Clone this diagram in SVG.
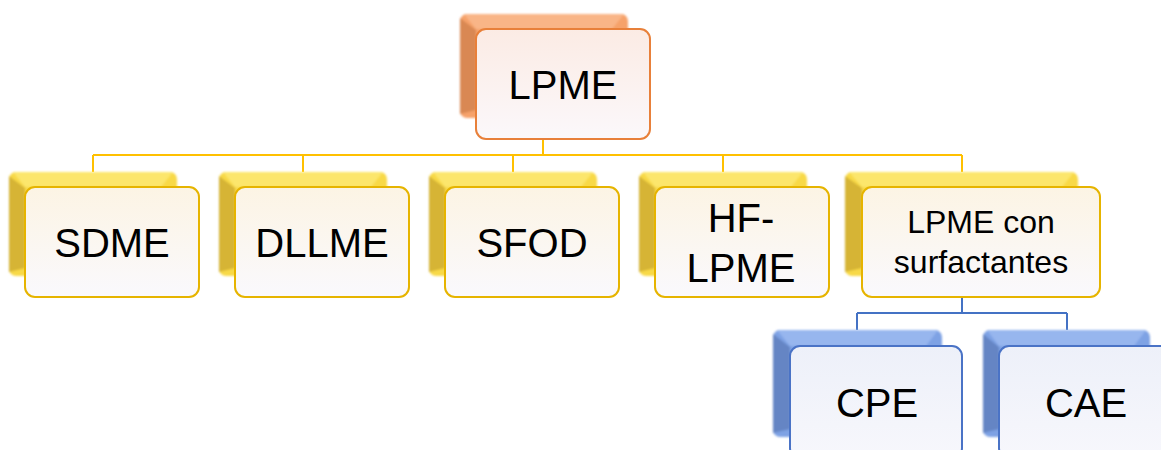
<svg xmlns="http://www.w3.org/2000/svg" width="1161" height="450" viewBox="0 0 1161 450">
<defs>
<linearGradient id="fo" x1="0" y1="0" x2="0" y2="1"><stop offset="0" stop-color="#FBEBE4"/><stop offset="1" stop-color="#FBF8FB"/></linearGradient>
<linearGradient id="fy" x1="0" y1="0" x2="0" y2="1"><stop offset="0" stop-color="#FCF4E4"/><stop offset="1" stop-color="#FAF9FD"/></linearGradient>
<linearGradient id="fb" x1="0" y1="0" x2="0" y2="1"><stop offset="0" stop-color="#EDF0F9"/><stop offset="1" stop-color="#F7F7FC"/></linearGradient>
<filter id="soft" x="-5%" y="-5%" width="110%" height="110%"><feGaussianBlur stdDeviation="1"/></filter>
</defs>
<style>
.t{font-family:"Liberation Sans",Arial,sans-serif;font-size:40px;fill:#000;text-anchor:middle}
.s{font-size:32px}
.bo{fill:#F6A26A}.lo{fill:#D98852}.to{fill:#F9B587}
.by{fill:#F8D946}.ly{fill:#D6B436}.ty{fill:#FCE66C}
.bb{fill:#7EA2E4}.lb{fill:#6585C4}.tb{fill:#97B6EE}
.fo{fill:url(#fo);stroke:#E8803A;stroke-width:2}
.fy{fill:url(#fy);stroke:#E6B400;stroke-width:2}
.fb{fill:url(#fb);stroke:#4A73C6;stroke-width:2}
.cy{fill:none;stroke:#FFC000;stroke-width:2}
.cb{fill:none;stroke:#4472C4;stroke-width:2}
</style>
<g id="connectors">
<path class="cy" d="M543 139V155M93 155H962M93 155V172M303 155V172M513 155V172M723 155V172M962 155V172"/>
<path class="cb" d="M962 298V313M857 313H1067M857 313V330M1067 313V330"/>
</g>
<g id="n-lpme">
<g filter="url(#soft)"><rect class="bo" x="460" y="14" width="168" height="104" rx="7"/><polygon class="lo" points="460,18 476,30 476,110 460,114"/><polygon class="to" points="464,14 624,14 612,29 476,29"/></g>
<rect class="fo" x="476" y="29" width="174" height="110" rx="10"/>
<text class="t" x="563" y="99">LPME</text>
</g>
<g id="n-sdme">
<g filter="url(#soft)"><rect class="by" x="9" y="172" width="168" height="104" rx="7"/><polygon class="ly" points="9,176 25,188 25,268 9,272"/><polygon class="ty" points="13,172 173,172 161,187 25,187"/></g>
<rect class="fy" x="25" y="187" width="174" height="110" rx="10"/>
<text class="t" x="112" y="257">SDME</text>
</g>
<g id="n-dllme">
<g filter="url(#soft)"><rect class="by" x="219" y="172" width="168" height="104" rx="7"/><polygon class="ly" points="219,176 235,188 235,268 219,272"/><polygon class="ty" points="223,172 383,172 371,187 235,187"/></g>
<rect class="fy" x="235" y="187" width="174" height="110" rx="10"/>
<text class="t" x="322" y="257">DLLME</text>
</g>
<g id="n-sfod">
<g filter="url(#soft)"><rect class="by" x="429" y="172" width="168" height="104" rx="7"/><polygon class="ly" points="429,176 445,188 445,268 429,272"/><polygon class="ty" points="433,172 593,172 581,187 445,187"/></g>
<rect class="fy" x="445" y="187" width="174" height="110" rx="10"/>
<text class="t" x="532" y="257">SFOD</text>
</g>
<g id="n-hflpme">
<g filter="url(#soft)"><rect class="by" x="639" y="172" width="168" height="104" rx="7"/><polygon class="ly" points="639,176 655,188 655,268 639,272"/><polygon class="ty" points="643,172 803,172 791,187 655,187"/></g>
<rect class="fy" x="655" y="187" width="174" height="110" rx="10"/>
<text class="t" x="741" y="232">HF-</text>
<text class="t" x="741" y="282">LPME</text>
</g>
<g id="n-surf">
<g filter="url(#soft)"><rect class="by" x="845" y="172" width="233" height="104" rx="7"/><polygon class="ly" points="845,176 862,188 862,268 845,272"/><polygon class="ty" points="849,172 1074,172 1062,187 862,187"/></g>
<rect class="fy" x="862" y="187" width="238" height="110" rx="10"/>
<text class="t s" x="981" y="233">LPME con</text>
<text class="t s" x="981" y="273">surfactantes</text>
</g>
<g id="n-cpe">
<g filter="url(#soft)"><rect class="bb" x="773" y="330" width="169" height="107" rx="7"/><polygon class="lb" points="773,334 790,347 790,429 773,433"/><polygon class="tb" points="777,330 938,330 926,346 790,346"/></g>
<rect class="fb" x="790" y="346" width="172" height="112" rx="10"/>
<text class="t" x="877" y="417">CPE</text>
</g>
<g id="n-cae">
<g filter="url(#soft)"><rect class="bb" x="983" y="330" width="167" height="107" rx="7"/><polygon class="lb" points="983,334 999,347 999,429 983,433"/><polygon class="tb" points="987,330 1146,330 1134,346 999,346"/></g>
<rect class="fb" x="999" y="346" width="174" height="112" rx="10"/>
<text class="t" x="1086" y="417">CAE</text>
</g>
</svg>
